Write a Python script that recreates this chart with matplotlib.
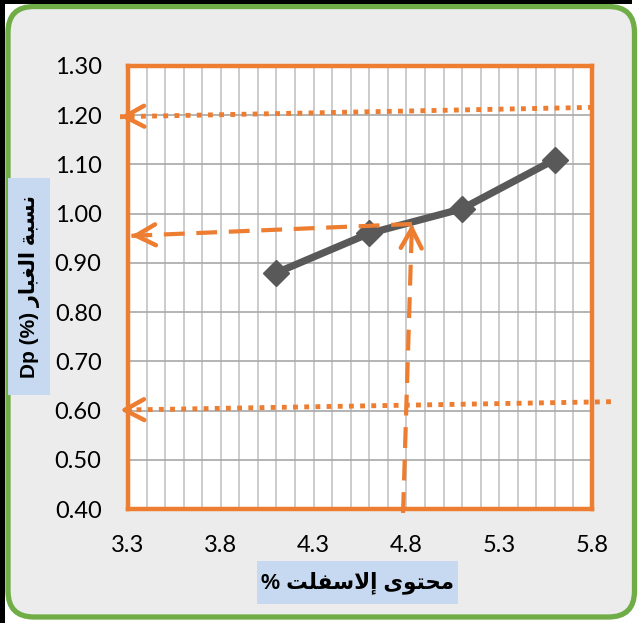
import matplotlib
matplotlib.use("Agg")
import matplotlib.pyplot as plt
from matplotlib.patches import FancyBboxPatch, Rectangle
from matplotlib.transforms import IdentityTransform
from matplotlib.ticker import MultipleLocator

plt.rcParams['font.family'] = ['Lato', 'DejaVu Sans']

# ---- data -------------------------------------------------------------
asphalt_content = [4.1, 4.6, 5.1, 5.6]
dust_ratio = [0.88, 0.96, 1.01, 1.11]

x_ticks = [3.3, 3.8, 4.3, 4.8, 5.3, 5.8]
x_tick_labels = ["3.3", "3.8", "4.3", "4.8", "5.3", "5.8"]
y_ticks = [0.40, 0.50, 0.60, 0.70, 0.80, 0.90, 1.00, 1.10, 1.20, 1.30]
y_tick_labels = ["0.40", "0.50", "0.60", "0.70", "0.80", "0.90", "1.00", "1.10", "1.20", "1.30"]

# guide lines: (start, arrow tip) in data units
upper_limit_guide = [(5.805, 1.216), (3.257, 1.197)]
lower_limit_guide = [(5.902, 0.618), (3.257, 0.601)]
design_vertical = [(4.782, 0.392), (4.830, 0.979)]
design_horizontal = [(4.830, 0.979), (3.318, 0.955)]

xlabel_ar = "محتوى إلاسفلت"
ylabel_ar = "نسبة الغبار"

# ---- minimal Arabic shaping (presentation forms, visual order) ---------
FORMS = {
    'ا': ('\uFE8D', '\uFE8E', None, None),
    'إ': ('\uFE87', '\uFE88', None, None),
    'ب': ('\uFE8F', '\uFE90', '\uFE91', '\uFE92'),
    'ة': ('\uFE93', '\uFE94', None, None),
    'ت': ('\uFE95', '\uFE96', '\uFE97', '\uFE98'),
    'ح': ('\uFEA1', '\uFEA2', '\uFEA3', '\uFEA4'),
    'ر': ('\uFEAD', '\uFEAE', None, None),
    'س': ('\uFEB1', '\uFEB2', '\uFEB3', '\uFEB4'),
    'غ': ('\uFECD', '\uFECE', '\uFECF', '\uFED0'),
    'ف': ('\uFED1', '\uFED2', '\uFED3', '\uFED4'),
    'ل': ('\uFEDD', '\uFEDE', '\uFEDF', '\uFEE0'),
    'م': ('\uFEE1', '\uFEE2', '\uFEE3', '\uFEE4'),
    'ن': ('\uFEE5', '\uFEE6', '\uFEE7', '\uFEE8'),
    'و': ('\uFEED', '\uFEEE', None, None),
    'ى': ('\uFEEF', '\uFEF0', '\uFBE8', '\uFBE9'),
}
LAM_ALEF = {'ا': ('\uFEFB', '\uFEFC', None, None),
            'إ': ('\uFEF9', '\uFEFA', None, None)}


def shape_arabic(text):
    tokens = []
    i = 0
    while i < len(text):
        c = text[i]
        if c == 'ل' and i + 1 < len(text) and text[i + 1] in LAM_ALEF:
            tokens.append(LAM_ALEF[text[i + 1]])
            i += 2
            continue
        tokens.append(FORMS.get(c, c))
        i += 1
    out = []
    for k, t in enumerate(tokens):
        if isinstance(t, str):
            out.append(t)
            continue
        prev = tokens[k - 1] if k > 0 else None
        nxt = tokens[k + 1] if k + 1 < len(tokens) else None
        join_prev = isinstance(prev, tuple) and prev[2] is not None
        join_next = t[2] is not None and isinstance(nxt, tuple)
        if join_prev and join_next:
            out.append(t[3])
        elif join_prev:
            out.append(t[1])
        elif join_next:
            out.append(t[2])
        else:
            out.append(t[0])
    return "".join(out)[::-1]


# ---- figure -------------------------------------------------------------
W, H = 638, 623
fig = plt.figure(figsize=(W / 100, H / 100), dpi=100, facecolor='white')

# frame
fig.patches.append(Rectangle((0, H - 4), W - 6, 4, transform=IdentityTransform(),
                             facecolor='black', edgecolor='none', zorder=0))
fig.patches.append(Rectangle((0, 0), 5, H, transform=IdentityTransform(),
                             facecolor='black', edgecolor='none', zorder=0))
fig.patches.append(FancyBboxPatch((8, 6), 626.5, 610.5,
                                  boxstyle='round,pad=0,rounding_size=26',
                                  transform=IdentityTransform(),
                                  facecolor='#ececec', edgecolor='#70ad47',
                                  linewidth=3.8, zorder=-1))

ax = fig.add_axes([128 / W, 1 - 509 / H, (592 - 128) / W, (509 - 66) / H])
ax.set_zorder(5)
ax.set_facecolor('white')
ax.set_xlim(x_ticks[0], x_ticks[-1])
ax.set_ylim(y_ticks[0], y_ticks[-1])
ax.set_xticks(x_ticks)
ax.set_xticklabels(x_tick_labels)
ax.set_yticks(y_ticks)
ax.set_yticklabels(y_tick_labels)
ax.xaxis.set_minor_locator(MultipleLocator(0.1))
ax.grid(axis='x', which='both', color='#c4c4c4', linewidth=1.2)
ax.grid(axis='y', which='major', color='#a8a8a8', linewidth=1.2)
ax.tick_params(which='both', length=0, labelsize=17, colors='black')
ax.tick_params(axis='y', pad=19)
ax.tick_params(axis='x', pad=19)
for s in ax.spines.values():
    s.set_color('#ED7D31')
    s.set_linewidth(3.2)

# data series
ax.plot(asphalt_content, dust_ratio, color='#595959', linewidth=5.2,
        marker='D', markersize=13.5, markerfacecolor='#595959',
        markeredgecolor='#595959', zorder=4, solid_capstyle='round',
        solid_joinstyle='round')

ORANGE = '#ED7D31'


def guide(points, dashes, lw):
    (x0, y0), (x1, y1) = points
    ax.plot([x0, x1], [y0, y1], color=ORANGE, linewidth=lw, dashes=dashes,
            clip_on=False, zorder=5, dash_capstyle='butt')
    # short solid segment for the open arrowhead
    fx = x1 + (x0 - x1) * 0.02
    fy = y1 + (y0 - y1) * 0.02
    ax.annotate('', xy=(x1, y1), xytext=(fx, fy),
                arrowprops=dict(arrowstyle='->,head_length=14,head_width=7.5',
                                mutation_scale=1, color=ORANGE, lw=3.2,
                                shrinkA=0, shrinkB=0, capstyle='round',
                                joinstyle='round'),
                annotation_clip=False, zorder=6)


guide(upper_limit_guide, (1, 1.3), 3.5)
guide(lower_limit_guide, (1, 1.3), 3.5)
guide(design_horizontal, (5, 2.8), 3.0)
guide(design_vertical, (5, 2.8), 3.0)

# axis titles in shaded boxes
LABEL_FONT = ['Liberation Sans', 'DejaVu Sans']
fig.patches.append(Rectangle((257, H - 604), 201, 43, transform=IdentityTransform(),
                             facecolor='#c6d9f0', edgecolor='none', zorder=2))
fig.text(357.5 / W, 1 - 582.5 / H, "% " + shape_arabic(xlabel_ar),
         ha='center', va='center', fontsize=15.5, fontweight='bold', zorder=3,
         family=LABEL_FONT)

fig.patches.append(Rectangle((8, H - 395), 42, 217, transform=IdentityTransform(),
                             facecolor='#c6d9f0', edgecolor='none', zorder=2))
fig.text(29.5 / W, 1 - 286.5 / H, "Dp (%) " + shape_arabic(ylabel_ar),
         ha='center', va='center', rotation=90, fontsize=15, fontweight='bold',
         zorder=3, family=LABEL_FONT)

fig.savefig('out.png', dpi=100, facecolor=fig.get_facecolor())
